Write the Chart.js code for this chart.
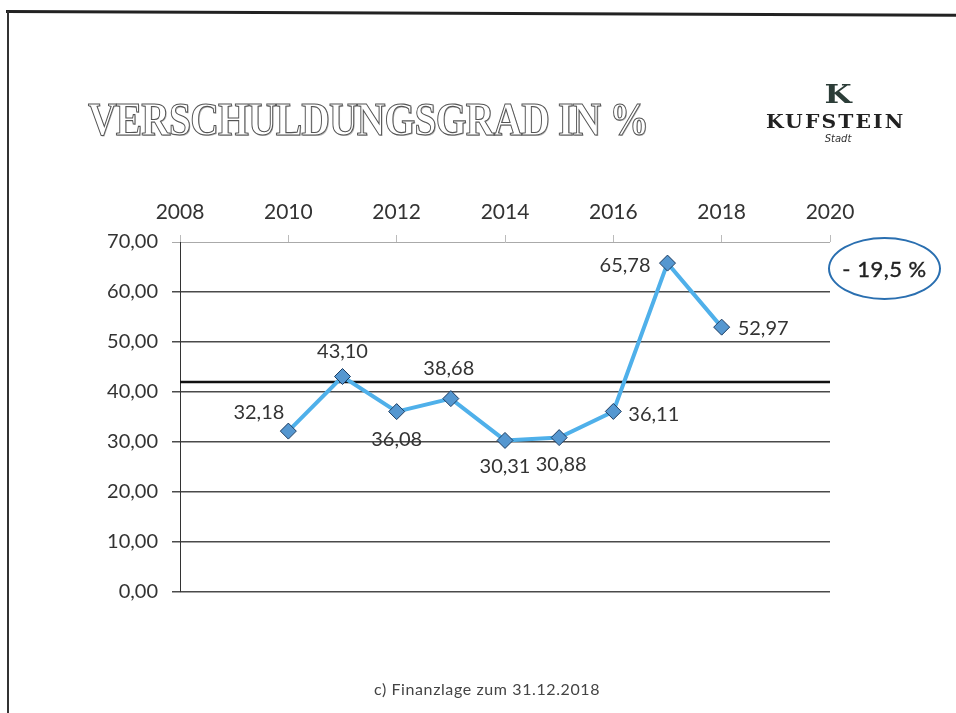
<!DOCTYPE html>
<html>
<head>
<meta charset="utf-8">
<script src="https://cdn.jsdelivr.net/npm/chart.js@4"></script>
<style>
  html,body{margin:0;padding:0;background:#fff;}
  #wrap{position:relative;width:956px;height:713px;overflow:hidden;background:#fff;}
  #chart{position:absolute;left:0;top:0;}
  #frameTop{position:absolute;left:6px;top:10px;width:960px;height:3px;background:#222;transform:rotate(0.22deg);transform-origin:left top;}
  #frameLeft{position:absolute;left:7px;top:11px;width:2px;height:710px;background:#333;}
  #title{position:absolute;left:88px;top:93px;font-family:"Liberation Serif","DejaVu Serif",serif;font-weight:bold;font-size:46px;color:#fff;-webkit-text-stroke:1.1px #555;text-shadow:1px 1px 0 #bbb;white-space:nowrap;transform-origin:left top;letter-spacing:-1px;}
  #logoK{position:absolute;left:826px;top:79px;width:24px;text-align:center;font-family:"DejaVu Serif",serif;font-weight:bold;font-size:26px;color:#2c3d38;transform:scaleX(1.2);}
  #logoName{position:absolute;left:766px;top:110px;font-family:"DejaVu Serif",serif;font-weight:bold;font-size:19px;letter-spacing:2px;color:#222;white-space:nowrap;}
  #logoSub{position:absolute;left:818px;top:133px;width:40px;text-align:center;font-family:"DejaVu Sans",sans-serif;font-style:italic;font-size:10px;color:#333;}
  #badge{position:absolute;left:828px;top:237px;width:113px;height:63px;border:2.5px solid #2a6fb0;border-radius:50%;box-sizing:border-box;display:flex;align-items:center;justify-content:center;font-family:Lato,"Open Sans",sans-serif;font-size:22px;color:#222;letter-spacing:0.5px;-webkit-text-stroke:0.4px #222;}
  #footer{position:absolute;left:0;width:956px;top:679px;text-align:center;font-family:Lato,"Open Sans",sans-serif;font-size:16px;letter-spacing:0.6px;color:#444;padding-left:18px;box-sizing:border-box;}
</style>
</head>
<body>
<div id="wrap">
  <canvas id="chart" width="956" height="713"></canvas>
  <div id="frameTop"></div>
  <div id="frameLeft"></div>
  <div id="title">VERSCHULDUNGSGRAD IN %</div>
  <div id="logoK">K</div>
  <div id="logoName">KUFSTEIN</div>
  <div id="logoSub">Stadt</div>
  <div id="badge">- 19,5 %</div>
  <div id="footer">c) Finanzlage zum 31.12.2018</div>
</div>
<script>
// data
var years=[2010, 2011, 2012, 2013, 2014, 2015, 2016, 2017, 2018];
var debtRatio=[32.18, 43.10, 36.08, 38.68, 30.31, 30.88, 36.11, 65.78, 52.97];
var refLineYears=[2008, 2020];
var refLineValues=[42.0, 42.0];
var xTicks=[2008, 2010, 2012, 2014, 2016, 2018, 2020];
var yTicks=[0, 10, 20, 30, 40, 50, 60, 70];

// label placement: [align, dx, dy]
var labelStyle=[["right",-4,-19],["center",0,-25],["center",0,28],["center",-2,-30],["center",0,26],["center",2,27],["left",15,3],["right",-17,2],["left",16,1]];

function fmt(v){
  return v.toFixed(2).replace(".", ",");
}

// fit title width
var t=document.getElementById("title");
t.style.transform="scaleX("+(560/t.offsetWidth)+")";
var n=document.getElementById("logoName");
n.style.transform="scaleX("+(140/n.offsetWidth)+")";
n.style.transformOrigin="left top";

var labelPlugin={
  id: "pointLabels",
  afterDatasetsDraw: function(chart){
    var ctx=chart.ctx;
    var meta=chart.getDatasetMeta(1);
    ctx.save();
    ctx.font="20px Lato, 'Open Sans', sans-serif";
    ctx.fillStyle="#333";
    ctx.textBaseline="middle";
    meta.data.forEach(function(p, i){
      var s=labelStyle[i];
      ctx.textAlign=s[0];
      ctx.fillText(fmt(debtRatio[i]), p.x+s[1], p.y+s[2]);
    });
    ctx.restore();
  }
};

var ctx=document.getElementById("chart").getContext("2d");
new Chart(ctx, {
  type: "scatter",
  data: {
    datasets: [
      {
        data: refLineYears.map(function(y, i){ return {x:y, y:refLineValues[i]}; }),
        showLine: true,
        borderColor: "#111",
        borderWidth: 2.5,
        pointRadius: 0,
        order: 2
      },
      {
        data: years.map(function(y, i){ return {x:y, y:debtRatio[i]}; }),
        showLine: true,
        borderColor: "#4fb0ea",
        borderWidth: 4,
        pointStyle: "rectRot",
        pointRadius: 8,
        pointBackgroundColor: "#5597d0",
        pointBorderColor: "#1d3c60",
        pointBorderWidth: 1,
        order: 1
      }
    ]
  },
  options: {
    responsive: false,
    animation: false,
    layout: {padding: {left: 0, top: 190, right: 126, bottom: 121}},
    plugins: {legend: {display: false}, tooltip: {enabled: false}},
    scales: {
      x: {
        type: "linear",
        position: "top",
        min: 2008,
        max: 2020,
        afterBuildTicks: function(scale){
          scale.ticks=xTicks.map(function(v){ return {value:v}; });
        },
        afterFit: function(scale){
          scale.height=52;
        },
        border: {display: false},
        grid: {drawOnChartArea: false, drawTicks: true, tickLength: 7, color: "#bbb"},
        ticks: {
          padding: 10,
          color: "#333",
          font: {family: "Lato, 'Open Sans', sans-serif", size: 21},
          callback: function(v){ return String(v); }
        }
      },
      y: {
        min: 0,
        max: 70,
        afterBuildTicks: function(scale){
          scale.ticks=yTicks.map(function(v){ return {value:v}; });
        },
        afterFit: function(scale){
          scale.width=180;
        },
        border: {display: true, color: "#333", width: 1},
        grid: {
          tickLength: 8,
          color: function(c){ return c.tick && c.tick.value==70 ? "#aaa" : "#4a4a4a"; },
          lineWidth: function(c){ return c.tick && c.tick.value==70 ? 1 : 1.5; }
        },
        ticks: {
          padding: 14,
          color: "#333",
          font: {family: "Lato, 'Open Sans', sans-serif", size: 20},
          callback: function(v){ return fmt(v); }
        }
      }
    }
  },
  plugins: [labelPlugin]
});
</script>
</body>
</html>
